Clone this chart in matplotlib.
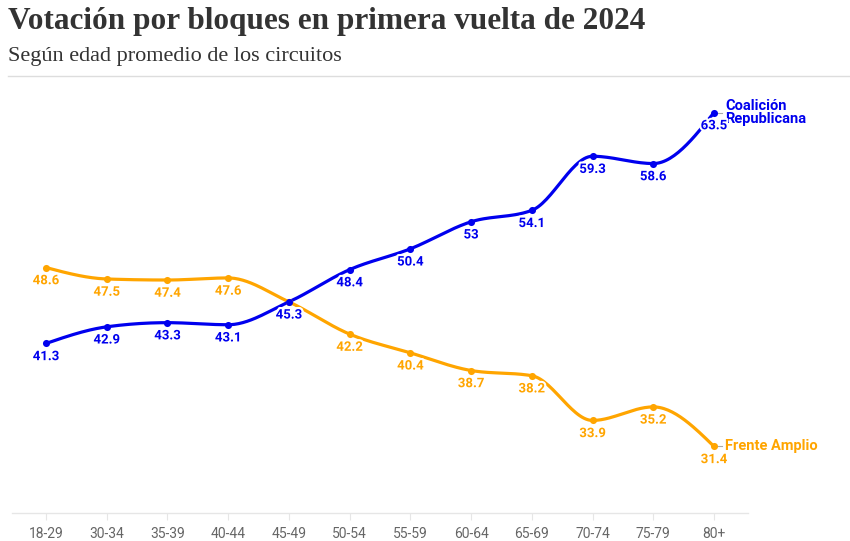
import numpy as np
import matplotlib
matplotlib.use("Agg")
import matplotlib.pyplot as plt
import matplotlib.patheffects as pe

categories = ["18-29", "30-34", "35-39", "40-44", "45-49", "50-54",
              "55-59", "60-64", "65-69", "70-74", "75-79", "80+"]
coalicion = [41.3, 42.9, 43.3, 43.1, 45.3, 48.4, 50.4, 53.0, 54.1, 59.3, 58.6, 63.5]
frente = [48.6, 47.5, 47.4, 47.6, 45.3, 42.2, 40.4, 38.7, 38.2, 33.9, 35.2, 31.4]
value_labels_cr = ["41.3", "42.9", "43.3", "43.1", "45.3", "48.4", "50.4", "53", "54.1", "59.3", "58.6", "63.5"]
value_labels_fa = ["48.6", "47.5", "47.4", "47.6", "45.3", "42.2", "40.4", "38.7", "38.2", "33.9", "35.2", "31.4"]

BLUE = "#0000ee"
ORANGE = "#ffa500"


def monotone_x(x, y, n=30):
    """d3 curveMonotoneX rendering of a polyline."""
    x = np.asarray(x, float); y = np.asarray(y, float)
    m = len(x)
    h = np.diff(x); s = np.diff(y) / h
    t = np.zeros(m)
    for i in range(1, m - 1):
        s0, s1 = s[i - 1], s[i]
        p = (s0 * h[i] + s1 * h[i - 1]) / (h[i - 1] + h[i])
        t[i] = (np.sign(s0) + np.sign(s1)) * min(abs(s0), abs(s1), 0.5 * abs(p)) or 0.0
    t[0] = (3 * s[0] - t[1]) / 2
    t[-1] = (3 * s[-1] - t[-2]) / 2
    xs, ys = [], []
    for i in range(m - 1):
        u = np.linspace(0, 1, n)
        dx = h[i]
        h00 = 2 * u**3 - 3 * u**2 + 1
        h10 = u**3 - 2 * u**2 + u
        h01 = -2 * u**3 + 3 * u**2
        h11 = u**3 - u**2
        xs.append(x[i] + u * dx)
        ys.append(h00 * y[i] + h10 * dx * t[i] + h01 * y[i + 1] + h11 * dx * t[i + 1])
    return np.concatenate(xs), np.concatenate(ys)


W, H = 850, 541
fig = plt.figure(figsize=(W / 100, H / 100), dpi=100)

# axes in pixel coords: x 12..748, y 90..513
ax = fig.add_axes([12 / W, 1 - 513 / H, (748 - 12) / W, (513 - 90) / H])
xi = np.arange(len(categories))
ax.set_xlim(-0.56, 11.56)
ax.set_ylim(25, 65.67)

for vals, col, labs in [(frente, ORANGE, value_labels_fa), (coalicion, BLUE, value_labels_cr)]:
    sx, sy = monotone_x(xi, vals)
    ax.plot(sx, sy, color=col, lw=2.3, solid_capstyle="round", zorder=3)
    ax.scatter(xi, vals, s=26, color=col, zorder=4, linewidths=0)
    for x, v, lab in zip(xi, vals, labs):
        ax.annotate(lab, (x, v), xytext=(0, -9.5), textcoords="offset points",
                    ha="center", va="center", fontsize=9.5, fontweight="bold",
                    color=col, family="Roboto", zorder=5,
                    path_effects=[pe.withStroke(linewidth=3, foreground="white")])

# series names
last = len(categories) - 1
ax.annotate("Coalición\nRepublicana", (last, coalicion[-1]), xytext=(8, 0),
            textcoords="offset points", ha="left", va="center", fontsize=10.5,
            fontweight="bold", color=BLUE, family="Roboto", linespacing=0.95,
            annotation_clip=False)
ax.annotate("Frente Amplio", (last, frente[-1]), xytext=(8, 0),
            textcoords="offset points", ha="left", va="center", fontsize=10.5,
            fontweight="bold", color=ORANGE, family="Roboto", annotation_clip=False)
for v in (coalicion[-1], frente[-1]):
    ax.plot([last + 0.06, last + 0.14], [v, v], color="#aaaaaa", lw=0.8,
            clip_on=False, zorder=2)

for sp in ["top", "right", "left"]:
    ax.spines[sp].set_visible(False)
ax.spines["bottom"].set_color("#e6e6e6")
ax.spines["bottom"].set_linewidth(1)
ax.set_yticks([])
ax.set_xticks(xi)
ax.set_xticklabels(categories, fontsize=10, color="#666666", family="Roboto")
ax.tick_params(axis="x", length=5, color="#e6e6e6", pad=5)

# title / subtitle / rule
fig.text(8 / W, 1 - 21 / H, "Votación por bloques en primera vuelta de 2024",
         fontsize=22.5, fontweight="bold", family="Liberation Serif",
         color="#333333", ha="left", va="center")
fig.text(8 / W, 1 - 56 / H, "Según edad promedio de los circuitos",
         fontsize=16, family="Liberation Serif", color="#333333",
         ha="left", va="center")
fig.add_artist(plt.Line2D([8 / W, 1], [1 - 76 / H, 1 - 76 / H],
                          transform=fig.transFigure, color="#dddddd", lw=1))

fig.savefig("out.png", dpi=100)
